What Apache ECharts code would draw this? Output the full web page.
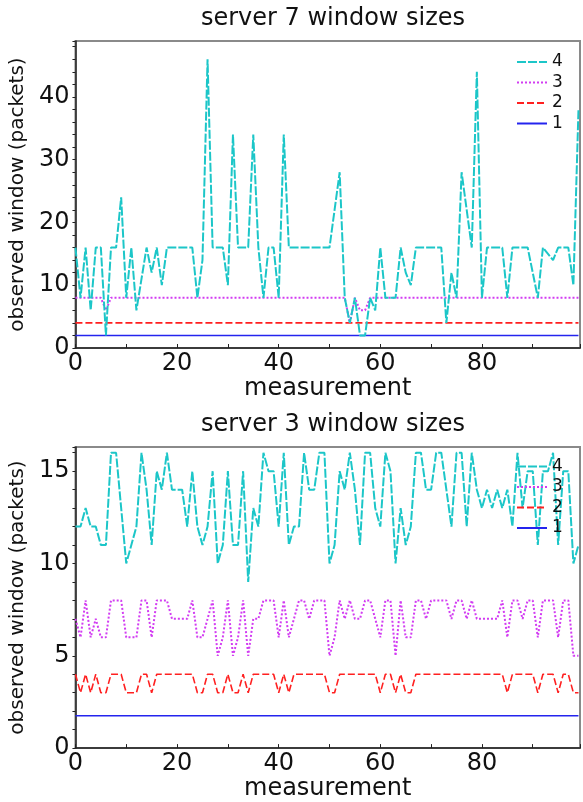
<!DOCTYPE html>
<html>
<head>
<meta charset="utf-8">
<script src="https://cdn.jsdelivr.net/npm/echarts@6/dist/echarts.min.js"></script>
<style>
  html, body { margin: 0; padding: 0; background: #fff; }
  #chart { width: 583px; height: 802px; }
</style>
</head>
<body>
<div id="chart"></div>
<script>
// measurement index (x)
const measurement = [
  0, 1, 2, 3, 4, 5, 6, 7, 8, 9, 10, 11, 12, 13, 14, 15, 16, 17, 18, 19,
  20, 21, 22, 23, 24, 25, 26, 27, 28, 29, 30, 31, 32, 33, 34, 35, 36, 37, 38, 39,
  40, 41, 42, 43, 44, 45, 46, 47, 48, 49, 50, 51, 52, 53, 54, 55, 56, 57, 58, 59,
  60, 61, 62, 63, 64, 65, 66, 67, 68, 69, 70, 71, 72, 73, 74, 75, 76, 77, 78, 79,
  80, 81, 82, 83, 84, 85, 86, 87, 88, 89, 90, 91, 92, 93, 94, 95, 96, 97, 98, 99
];

const seriesNames = ['4', '3', '2', '1'];
const xTicks = [0, 20, 40, 60, 80];
const server7Ticks = [0, 10, 20, 30, 40];
const server3Ticks = [0, 5, 10, 15];

// server 7: observed window (packets)
const s7w4 = [
  16, 8, 16, 6, 16, 16, 2, 16, 16, 24,
  8, 16, 6, 11, 16, 12, 16, 10, 16, 16,
  16, 16, 16, 16, 8, 14, 46, 16, 16, 16,
  10, 34, 16, 16, 16, 34, 16, 8, 16, 16,
  8, 34, 16, 16, 16, 16, 16, 16, 16, 16,
  16, 22, 28, 8, 4, 8, 2, 2, 8, 6,
  16, 8, 8, 8, 16, 12, 10, 16, 16, 16,
  16, 16, 16, 4, 12, 8, 28, 22, 16, 44,
  8, 16, 16, 16, 16, 8, 16, 16, 16, 16,
  12, 8, 16, 15, 14, 16, 16, 16, 10, 38
];
const s7w3 = [
  8, 8, 8, 8, 8, 8, 6, 8, 8, 8,
  8, 8, 8, 8, 8, 8, 8, 8, 8, 8,
  8, 8, 8, 8, 8, 8, 8, 8, 8, 8,
  8, 8, 8, 8, 8, 8, 8, 8, 8, 8,
  8, 8, 8, 8, 8, 8, 8, 8, 8, 8,
  8, 8, 8, 8, 4, 8, 6, 6, 8, 8,
  8, 8, 8, 8, 8, 8, 8, 8, 8, 8,
  8, 8, 8, 8, 8, 8, 8, 8, 8, 8,
  8, 8, 8, 8, 8, 8, 8, 8, 8, 8,
  8, 8, 8, 8, 8, 8, 8, 8, 8, 8
];
const s7w2 = [
  4, 4, 4, 4, 4, 4, 4, 4, 4, 4,
  4, 4, 4, 4, 4, 4, 4, 4, 4, 4,
  4, 4, 4, 4, 4, 4, 4, 4, 4, 4,
  4, 4, 4, 4, 4, 4, 4, 4, 4, 4,
  4, 4, 4, 4, 4, 4, 4, 4, 4, 4,
  4, 4, 4, 4, 4, 4, 4, 4, 4, 4,
  4, 4, 4, 4, 4, 4, 4, 4, 4, 4,
  4, 4, 4, 4, 4, 4, 4, 4, 4, 4,
  4, 4, 4, 4, 4, 4, 4, 4, 4, 4,
  4, 4, 4, 4, 4, 4, 4, 4, 4, 4
];
const s7w1 = [
  2, 2, 2, 2, 2, 2, 2, 2, 2, 2,
  2, 2, 2, 2, 2, 2, 2, 2, 2, 2,
  2, 2, 2, 2, 2, 2, 2, 2, 2, 2,
  2, 2, 2, 2, 2, 2, 2, 2, 2, 2,
  2, 2, 2, 2, 2, 2, 2, 2, 2, 2,
  2, 2, 2, 2, 2, 2, 2, 2, 2, 2,
  2, 2, 2, 2, 2, 2, 2, 2, 2, 2,
  2, 2, 2, 2, 2, 2, 2, 2, 2, 2,
  2, 2, 2, 2, 2, 2, 2, 2, 2, 2,
  2, 2, 2, 2, 2, 2, 2, 2, 2, 2
];

// server 3: observed window (packets)
const s3w4 = [
  12, 12, 13, 12, 12, 11, 11, 16, 16, 13,
  10, 11, 12, 16, 14, 11, 15, 14, 16, 14,
  14, 14, 12, 15, 12, 11, 12, 15, 10, 11,
  15, 11, 11, 15, 9, 13, 12, 16, 15, 15,
  12, 16, 11, 12, 12, 16, 14, 14, 16, 16,
  10, 11, 15, 14, 16, 14, 11, 16, 16, 13,
  12, 16, 15, 10, 13, 11, 12, 16, 16, 14,
  14, 16, 16, 14, 12, 16, 16, 12, 16, 14,
  13, 14, 13, 14, 13, 14, 12, 16, 13, 15,
  15, 11, 15, 15, 16, 11, 15, 15, 10, 11
];
const s3w3 = [
  7, 6, 8, 6, 7, 6, 6, 8, 8, 8,
  6, 6, 6, 8, 8, 6, 8, 8, 8, 7,
  7, 7, 7, 8, 6, 6, 7, 8, 5, 6,
  8, 5, 6, 8, 5, 7, 7, 8, 8, 8,
  6, 8, 6, 7, 8, 8, 7, 8, 8, 8,
  5, 6, 8, 7, 8, 7, 7, 8, 8, 7,
  6, 8, 8, 5, 8, 6, 6, 8, 8, 7,
  8, 8, 8, 8, 7, 8, 8, 7, 8, 7,
  7, 7, 7, 7, 8, 6, 8, 8, 7, 8,
  8, 6, 8, 8, 8, 6, 8, 8, 5, 5
];
const s3w2 = [
  4, 3, 4, 3, 4, 3, 3, 4, 4, 4,
  3, 3, 3, 4, 4, 3, 4, 4, 4, 4,
  4, 4, 4, 4, 3, 3, 4, 4, 3, 3,
  4, 3, 3, 4, 3, 4, 4, 4, 4, 4,
  3, 4, 3, 4, 4, 4, 4, 4, 4, 4,
  3, 3, 4, 4, 4, 4, 4, 4, 4, 4,
  3, 4, 4, 3, 4, 3, 3, 4, 4, 4,
  4, 4, 4, 4, 4, 4, 4, 4, 4, 4,
  4, 4, 4, 4, 4, 3, 4, 4, 4, 4,
  4, 3, 4, 4, 4, 3, 4, 4, 3, 3
];
const s3w1 = [
  1.75, 1.75, 1.75, 1.75, 1.75, 1.75, 1.75, 1.75, 1.75, 1.75,
  1.75, 1.75, 1.75, 1.75, 1.75, 1.75, 1.75, 1.75, 1.75, 1.75,
  1.75, 1.75, 1.75, 1.75, 1.75, 1.75, 1.75, 1.75, 1.75, 1.75,
  1.75, 1.75, 1.75, 1.75, 1.75, 1.75, 1.75, 1.75, 1.75, 1.75,
  1.75, 1.75, 1.75, 1.75, 1.75, 1.75, 1.75, 1.75, 1.75, 1.75,
  1.75, 1.75, 1.75, 1.75, 1.75, 1.75, 1.75, 1.75, 1.75, 1.75,
  1.75, 1.75, 1.75, 1.75, 1.75, 1.75, 1.75, 1.75, 1.75, 1.75,
  1.75, 1.75, 1.75, 1.75, 1.75, 1.75, 1.75, 1.75, 1.75, 1.75,
  1.75, 1.75, 1.75, 1.75, 1.75, 1.75, 1.75, 1.75, 1.75, 1.75,
  1.75, 1.75, 1.75, 1.75, 1.75, 1.75, 1.75, 1.75, 1.75, 1.75
];

const FONT = 'DejaVu Sans';
const INK = '#111';
const styles = {
  '4': { color: '#1cc6c8', width: 2, type: [9, 2] },
  '3': { color: '#d23cf2', width: 2, type: [2, 2] },
  '2': { color: '#ff2020', width: 1.6, type: [7, 3] },
  '1': { color: '#2424ee', width: 1.6, type: 'solid' }
};

function pairs(ys) {
  return measurement.map((x, i) => [x, ys[i]]);
}

function xAxisFor(gridIndex) {
  return {
    type: 'value', gridIndex, min: 0, max: 99.3, interval: 10,
    axisLine: { show: true, onZero: false, lineStyle: { color: '#222', width: 1.5 } },
    axisTick: { show: true, inside: true, length: 4, lineStyle: { color: '#222' } },
    axisLabel: {
      margin: 4, fontSize: 24, color: INK, fontFamily: FONT,
      formatter: v => (xTicks.indexOf(v) >= 0 ? String(v) : '')
    },
    splitLine: { show: false },
    name: 'measurement', nameLocation: 'middle', nameGap: 23,
    nameTextStyle: { fontSize: 24, color: INK, fontFamily: FONT }
  };
}

function yAxisFor(gridIndex, max, step, ticks) {
  return {
    type: 'value', gridIndex, min: 0, max, interval: step,
    axisLine: { show: true, onZero: false, lineStyle: { color: '#222', width: 1.5 } },
    axisTick: { show: true, inside: false, length: 3, lineStyle: { color: '#222' } },
    axisLabel: {
      margin: 6, fontSize: 24, color: INK, fontFamily: FONT,
      formatter: v => (ticks.indexOf(v) >= 0 ? String(v) : '')
    },
    splitLine: { show: false },
    name: 'observed window (packets)', nameLocation: 'middle', nameGap: 29,
    nameTextStyle: { fontSize: 20, color: INK, fontFamily: FONT }
  };
}

function lineSeries(name, idx, ys) {
  const s = styles[name];
  return {
    name, type: 'line', xAxisIndex: idx, yAxisIndex: idx,
    data: pairs(ys), symbol: 'none', showSymbol: false,
    itemStyle: { color: s.color },
    lineStyle: { color: s.color, width: s.width, type: s.type },
    z: 2
  };
}

// legend shows only the line sample, no marker
function legendAt(top) {
  return {
    data: seriesNames, orient: 'vertical', left: 516, top,
    itemWidth: 30, itemHeight: 14, itemGap: 0.5, padding: 0,
    selectedMode: false,
    itemStyle: { opacity: 0 },
    textStyle: { fontSize: 17, lineHeight: 20, color: INK, fontFamily: FONT }
  };
}

const titleStyle = { fontSize: 24, fontWeight: 'normal', color: INK, fontFamily: FONT };

const option = {
  animation: false,
  backgroundColor: '#fff',
  title: [
    { text: 'server 7 window sizes', left: 333, top: 7, textAlign: 'center', padding: 0, textStyle: titleStyle },
    { text: 'server 3 window sizes', left: 333, top: 413, textAlign: 'center', padding: 0, textStyle: titleStyle }
  ],
  legend: [legendAt(52), legendAt(456.5)],
  grid: [
    { left: 75, right: -2, top: 41, height: 307, show: true, borderColor: '#8a8a8a', borderWidth: 2 },
    { left: 75, right: -2, top: 447, height: 307, show: true, borderColor: '#8a8a8a', borderWidth: 2 }
  ],
  xAxis: [xAxisFor(0), xAxisFor(1)],
  yAxis: [yAxisFor(0, 48.9, 2, server7Ticks), yAxisFor(1, 16.31, 1, server3Ticks)],
  series: [
    lineSeries('1', 0, s7w1),
    lineSeries('2', 0, s7w2),
    lineSeries('3', 0, s7w3),
    lineSeries('4', 0, s7w4),
    lineSeries('1', 1, s3w1),
    lineSeries('2', 1, s3w2),
    lineSeries('3', 1, s3w3),
    lineSeries('4', 1, s3w4)
  ]
};

const chart = echarts.init(document.getElementById('chart'), null, { renderer: 'canvas' });
chart.setOption(option);
</script>
</body>
</html>
